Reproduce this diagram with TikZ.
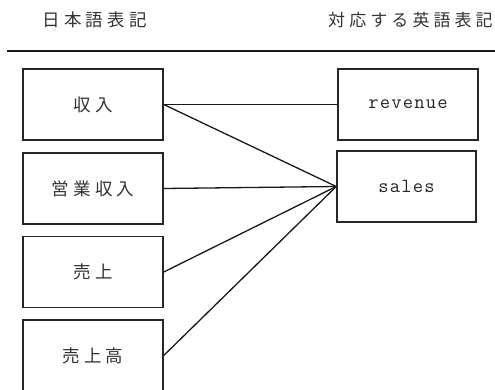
\documentclass[tikz,border=0pt]{standalone}
\usepackage{fontspec}
\newfontfamily\jpfont[LetterSpace=24]{Noto Sans CJK JP}
\newfontfamily\enfont[LetterSpace=6]{Latin Modern Mono}
\begin{document}
\begin{tikzpicture}[x=1pt,y=-1pt,
  jp/.style={font=\jpfont\fontsize{17.5}{17.5}\selectfont, text=black!80},
  en/.style={font=\enfont\fontsize{20}{20}\selectfont, text=black!85},
  box/.style={draw=black!85, line width=1.5pt, minimum width=140pt, minimum height=71pt, inner sep=0pt},
  link/.style={draw=black!90, line width=1.3pt}]
\useasboundingbox (0,0) rectangle (495,390);
% headers
\node[jp] (h1) at (94.5,20) {日本語表記};
\node[jp, font=\jpfont\fontsize{17}{17}\selectfont, inner sep=0pt, anchor=west] (h2) at (328,20) {対応する英語表記};
\coordinate (rl) at (7,51);
\coordinate (rr) at (495,51);
\draw[line width=2.2pt, black!90] (rl) -- (rr);
% japanese boxes
\node[box,jp] (k1) at (93,104.5) {収入};
\node[box,jp] (k2) at (93,188.5) {営業収入};
\node[box,jp] (k3) at (93,272) {売上};
\node[box,jp] (k4) at (93,355.5) {売上高};
% english boxes
\node[box,en] (rev) at (408,104.5) {revenue};
\node[box,en,minimum width=139pt] (sal) at (406.5,186.5) {sales};
% connectors
\draw[link] (k1.east) -- (rev.west);
\draw[link] (k1.east) -- (sal.west);
\draw[link] (k2.east) -- (sal.west);
\draw[link] (k3.east) -- (sal.west);
\draw[link] (k4.east) -- (sal.west);
\end{tikzpicture}
\end{document}
